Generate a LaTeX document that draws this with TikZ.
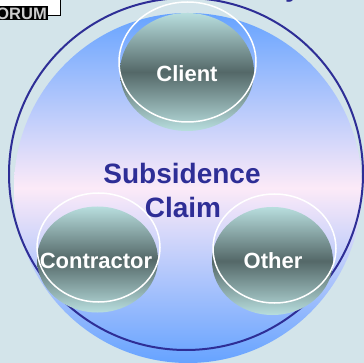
\documentclass[tikz,border=0pt]{standalone}
\usepackage{fontspec}
\setmainfont{Liberation Sans}
\usepackage{tikz}
\usetikzlibrary{positioning}
\definecolor{bgGrey}{RGB}{211,228,234}
\definecolor{claimBlue}{RGB}{102,163,255}
\definecolor{claimPink}{RGB}{252,234,248}
\definecolor{ringNavy}{RGB}{46,46,150}
\definecolor{partyLight}{RGB}{184,222,222}
\definecolor{partyDark}{RGB}{84,104,104}

\tikzset{
  party/.style={top color=partyLight, bottom color=partyLight, middle color=partyDark},
  partyring/.style={draw=white, line width=1.5pt},
  partytext/.style={text=white, font=\bfseries\fontsize{22}{24}\selectfont},
  claimtext/.style={text=ringNavy, font=\bfseries\fontsize{28}{30}\selectfont},
}

\begin{document}
\begin{tikzpicture}[x=1pt,y=-1pt]
    \useasboundingbox (0,0) rectangle (364,363);
    \clip (0,0) rectangle (364,363);
    \fill[bgGrey] (0,0) rectangle (364,363);
    % logo corner and title fragment
    \draw[fill=white, draw=black, line width=1pt] (-5,-5) rectangle (60,16);
    \fill[black] (0,6) rectangle (48,20.5);
    \node[anchor=east, inner sep=0pt, text=white!80!black, font=\bfseries\fontsize{16.5}{16.5}\selectfont] (logo) at (47,13.5) {ORUM};
    \node[anchor=base, inner sep=0pt, text=ringNavy, font=\bfseries\fontsize{28}{28}\selectfont] (title) at (293,-3) {y};
    % big claim circle
    \shade[top color=claimBlue, bottom color=claimBlue, middle color=claimPink] (188,188) ellipse [x radius=174, y radius=175];
    \draw[ringNavy, line width=2pt] (186,174) ellipse [x radius=177, y radius=176];
    % parties
    \coordinate (C) at (187,72); \coordinate (K) at (97.5,259.5); \coordinate (O) at (272.5,261);
    \shade[party] (C) ellipse [x radius=67, y radius=59];
    \draw[partyring] (187.5,62) ellipse [x radius=68.5, y radius=60];
    \shade[party] (K) ellipse [x radius=60.5, y radius=53];
    \draw[partyring] (98.5,247.5) ellipse [x radius=61.5, y radius=54.5];
    \shade[party] (O) ellipse [x radius=60.5, y radius=54];
    \draw[partyring] (274.5,248.5) ellipse [x radius=61.5, y radius=54.5];
    \node[partytext] (client) at (187,74) {Client};
    \node[partytext] (contractor) at (96,261) {Contractor};
    \node[partytext] (other) at (273,261) {Other};
    \node[claimtext] (subsidence) at (182,173) {Subsidence};
    \node[claimtext] (claim) at (183,207) {Claim};
\end{tikzpicture}
\end{document}
